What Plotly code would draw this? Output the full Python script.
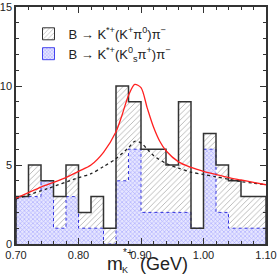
import numpy as np
import plotly.graph_objects as go

# bins (lower edges), width 0.02 GeV
bin_lo = [0.70, 0.72, 0.74, 0.76, 0.78, 0.80, 0.82, 0.84, 0.86, 0.88,
          0.90, 0.92, 0.94, 0.96, 0.98, 1.00, 1.02, 1.04, 1.06, 1.08]
bin_w = 0.02
total_counts = [3, 5, 4, 3, 5, 2, 3, 1, 10, 9, 6, 6, 5, 9, 1, 7, 5, 4, 3, 3]
ks_counts = [3, 3, 4, 1, 3, 1, 1, 0, 4, 6, 2, 2, 2, 2, 1, 6, 2, 1, 1, 1]

# fit curves
fit_x = [0.70, 0.72, 0.74, 0.76, 0.78, 0.80, 0.82, 0.84, 0.86, 0.87, 0.88,
         0.89, 0.90, 0.91, 0.92, 0.93, 0.94, 0.96, 0.98, 1.00, 1.02, 1.04,
         1.06, 1.08, 1.10]
fit_total = [2.9, 3.25, 3.6, 3.9, 4.2, 4.6, 5.0, 5.8, 7.1, 8.2, 9.4,
             10.1, 9.9, 8.6, 7.4, 6.5, 5.9, 5.2, 4.85, 4.6, 4.4, 4.2,
             4.05, 3.9, 3.75]
fit_x2 = [0.70, 0.75, 0.80, 0.82, 0.84, 0.86, 0.88, 0.89, 0.90, 0.91, 0.92,
          0.94, 0.96, 0.98, 1.00, 1.02, 1.04, 1.06, 1.08, 1.10]
fit_kpi0 = [2.85, 3.5, 4.2, 4.45, 4.9, 5.4, 6.1, 6.5, 6.4, 6.0, 5.6,
            5.1, 4.8, 4.55, 4.4, 4.25, 4.1, 3.95, 3.85, 3.75]

x_ticks = [0.70, 0.80, 0.90, 1.00, 1.10]
x_ticklabels = ["0.70", "0.80", "0.90", "1.00", "1.10"]
y_ticks = [0, 5, 10, 15]

names = ["B → K<sup>*+</sup>(K<sup>+</sup>π<sup>0</sup>)π<sup>−</sup>",
         "B → K<sup>*+</sup>(K<sup>0</sup><sub>s</sub>π<sup>+</sup>)π<sup>−</sup>"]

centers = [b + bin_w / 2 for b in bin_lo]

hatch = dict(shape="/", fgcolor="#666666", bgcolor="white", size=4, solidity=0.22)
check = dict(shape="x", fgcolor="#7777ff", bgcolor="#e6e6ff", size=3, solidity=0.4)


def step_outline(counts):
    xs, ys = [bin_lo[0]], [0]
    for b, c in zip(bin_lo, counts):
        xs += [b, b + bin_w]
        ys += [c, c]
    xs.append(bin_lo[-1] + bin_w)
    ys.append(0)
    return xs, ys


fig = go.Figure()

fig.add_trace(go.Bar(
    x=centers, y=total_counts, width=bin_w, showlegend=False,
    marker=dict(color="white", line=dict(width=0), pattern=hatch),
))
fig.add_trace(go.Bar(
    x=centers, y=ks_counts, width=bin_w, showlegend=False,
    marker=dict(color="white", line=dict(width=0), pattern=check),
))

bx, by = step_outline(ks_counts)
fig.add_trace(go.Scatter(x=bx, y=by, mode="lines", showlegend=False,
                         line=dict(color="#3333dd", width=1, dash="dot")))
tx, ty = step_outline(total_counts)
fig.add_trace(go.Scatter(x=tx, y=ty, mode="lines", showlegend=False,
                         line=dict(color="#333333", width=1.5)))

fig.add_trace(go.Scatter(x=fit_x2, y=fit_kpi0, mode="lines", showlegend=False,
                         line=dict(color="#222222", width=1.3, dash="dot",
                                   shape="spline", smoothing=0.8)))
fig.add_trace(go.Scatter(x=fit_x, y=fit_total, mode="lines", showlegend=False,
                         line=dict(color="#ff2020", width=1.3,
                                   shape="spline", smoothing=0.8)))

# legend-only entries
fig.add_trace(go.Bar(x=[None], y=[None], name=names[0],
                     marker=dict(color="white", line=dict(width=1, color="#333"),
                                 pattern=hatch)))
fig.add_trace(go.Bar(x=[None], y=[None], name=names[1],
                     marker=dict(color="white", line=dict(width=1, color="#4444ee"),
                                 pattern=check)))

title_font = dict(family="Liberation Sans, Arial, sans-serif", color="#222")
fig.update_layout(
    width=277, height=277,
    margin=dict(l=16, r=11, t=7, b=33, autoexpand=False),
    paper_bgcolor="white", plot_bgcolor="white",
    barmode="overlay", bargap=0,
    font=dict(family="Liberation Sans, Arial, sans-serif", size=11, color="#222"),
    showlegend=True,
    legend=dict(x=0.05, y=0.95, xanchor="left", yanchor="top",
                bgcolor="rgba(0,0,0,0)", font=dict(size=13),
                tracegroupgap=0, itemwidth=30),
    annotations=[
        dict(text="m", xref="paper", yref="paper", x=0.396, y=-0.083,
             xanchor="center", yanchor="middle", showarrow=False,
             font=dict(size=19, **title_font)),
        dict(text="K", xref="paper", yref="paper", x=0.434, y=-0.108,
             xanchor="center", yanchor="middle", showarrow=False,
             font=dict(size=9, **title_font)),
        dict(text="*+", xref="paper", yref="paper", x=0.446, y=-0.035,
             xanchor="center", yanchor="middle", showarrow=False,
             font=dict(size=10, **title_font)),
        dict(text="(GeV)", xref="paper", yref="paper", x=0.59, y=-0.083,
             xanchor="center", yanchor="middle", showarrow=False,
             font=dict(size=18, **title_font)),
    ],
)
fig.update_xaxes(
    range=[0.70, 1.10], tickvals=x_ticks, ticktext=x_ticklabels,
    ticks="inside", ticklen=6, tickwidth=1, tickcolor="#333",
    minor=dict(dtick=0.02, ticks="inside", ticklen=3, tickcolor="#333"),
    showline=True, linecolor="#333", linewidth=1.5, mirror="ticks",
    showgrid=False, zeroline=False, automargin=False,
)
fig.update_yaxes(
    range=[0, 15], tickvals=y_ticks,
    ticks="inside", ticklen=6, tickwidth=1, tickcolor="#333",
    minor=dict(dtick=1, ticks="inside", ticklen=3, tickcolor="#333"),
    showline=True, linecolor="#333", linewidth=1.5, mirror="ticks",
    showgrid=False, zeroline=False, automargin=False,
)

fig.write_html("out.html",
               config={"displayModeBar": False},
               post_script="document.body.style.margin='0';"
                           "document.body.style.padding='0';")
